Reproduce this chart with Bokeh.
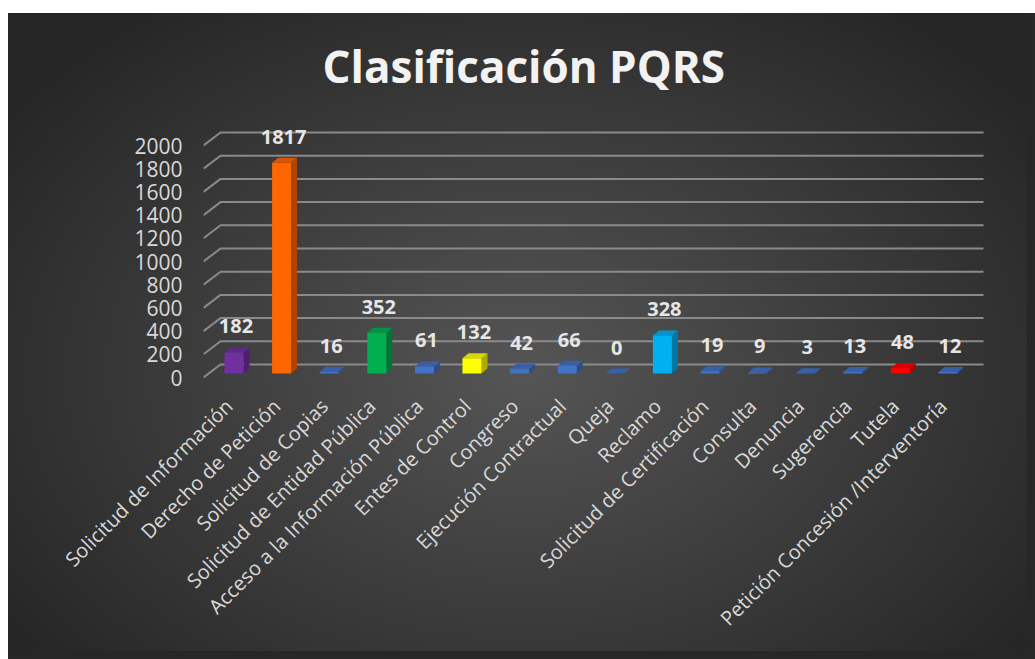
from math import pi
from bokeh.plotting import figure
from bokeh.models import FixedTicker, ColumnDataSource, Range1d
from bokeh.embed import file_html
from bokeh.resources import INLINE

# ---------------- data ----------------
categories = [
    "Solicitud de Información", "Derecho de Petición", "Solicitud de Copias",
    "Solicitud de Entidad Pública", "Acceso a la Información Pública",
    "Entes de Control", "Congreso", "Ejecución Contractual", "Queja", "Reclamo",
    "Solicitud de Certificación", "Consulta", "Denuncia", "Sugerencia", "Tutela",
    "Petición Concesión /Interventoría",
]
values = [182, 1817, 16, 352, 61, 132, 42, 66, 0, 328, 19, 9, 3, 13, 48, 12]
bar_colors = ["#7030A0", "#FF6600", "#4472C4", "#00B050", "#4472C4", "#FFFF00",
              "#4472C4", "#4472C4", "#4472C4", "#00B0F0", "#4472C4", "#4472C4",
              "#4472C4", "#4472C4", "#FF0000", "#4472C4"]
y_ticks = list(range(0, 2001, 200))

# ---------------- geometry helpers (pixels -> data units) ----------------
PX_X = 47.6      # px per category
PX_Y = 0.116     # px per value unit
def ux(px):
    return px / PX_X
def uy(px):
    return px / PX_Y

x_lo, x_hi = -30.5 / PX_X, (990 - 233.5) / PX_X
y_lo, y_hi = -8 / PX_Y, 2000 + 25 / PX_Y

W, H = 1027, 651
p = figure(width=W, height=H, output_backend="svg", toolbar_location=None,
           x_range=Range1d(x_lo, x_hi), y_range=Range1d(y_lo, y_hi),
           min_border_left=203, min_border_right=37, min_border_top=120,
           min_border_bottom=266, border_fill_color=None, background_fill_color=None,
           outline_line_color=None)
p.styles = {
    "background": "linear-gradient(#ffffff 0px, #ffffff 13px, transparent 13px), "
                  "linear-gradient(90deg, #ffffff 0px, #ffffff 8px, transparent 8px), "
                  "radial-gradient(ellipse farthest-corner at 51% 57%, #555555 0%, #3c3c3c 45%, #262626 85%)",
    "box-shadow": "8px 13px 0 0 #272727",
}
p.xgrid.visible = False
p.ygrid.visible = False

# title
p.title.text = "Clasificación PQRS"
p.title.text_font = "Open Sans"
p.title.text_font_size = "44px"
p.title.text_font_style = "bold"
p.title.text_color = "#f2f2f2"
p.title.align = "left"
p.title.offset = 119
p.title.standoff = 49

# ---------------- 3D gridlines ----------------
gx_back = x_lo + ux(17)
gx_end = x_lo + ux(17) + (983 - 220) / PX_X
g_dy = uy(13)
grid_xs = [[x_lo, gx_back, gx_end] for _ in y_ticks]
grid_ys = [[v, v + g_dy, v + g_dy] for v in y_ticks]
p.multi_line(grid_xs, grid_ys, line_color="#8a8a8a", line_width=2)

# ---------------- 3D bars ----------------
def shade(hexc, f):
    r, g, b = int(hexc[1:3], 16), int(hexc[3:5], 16), int(hexc[5:7], 16)
    return "#%02x%02x%02x" % (int(r * f), int(g * f), int(b * f))

hw = ux(9.5)
base = uy(4)
ddx, ddy = ux(6), uy(5)
xs_idx = list(range(len(categories)))

front = ColumnDataSource(dict(
    left=[i - hw for i in xs_idx], right=[i + hw for i in xs_idx],
    bottom=[base] * len(values), top=[base + v for v in values],
    color=bar_colors))
side_xs, side_ys, top_xs, top_ys = [], [], [], []
for i, v in zip(xs_idx, values):
    side_xs.append([i + hw, i + hw + ddx, i + hw + ddx, i + hw])
    side_ys.append([base, base + ddy, base + v + ddy, base + v])
    top_xs.append([i - hw, i - hw + ddx, i + hw + ddx, i + hw])
    top_ys.append([base + v, base + v + ddy, base + v + ddy, base + v])

p.patches(side_xs, side_ys, fill_color=[shade(c, 0.68) for c in bar_colors], line_color=None)
p.patches(top_xs, top_ys, fill_color=[shade(c, 0.85) for c in bar_colors], line_color=None)
p.quad(left="left", right="right", bottom="bottom", top="top", fill_color="color",
       line_color=None, source=front)

# data labels
lab = ColumnDataSource(dict(x=xs_idx, y=[base + v for v in values],
                            t=[str(v) for v in values]))
p.text(x="x", y="y", text="t", source=lab, text_align="center", text_baseline="middle",
       y_offset=-26, x_offset=2, text_font_size="20px", text_font_style="bold",
       text_color="#e6e6e6", text_font={"value": "Open Sans"})

# ---------------- axes ----------------
p.yaxis.ticker = FixedTicker(ticks=y_ticks)
p.yaxis.axis_line_color = None
p.yaxis.major_tick_line_color = None
p.yaxis.minor_tick_line_color = None
p.yaxis.major_label_standoff = 15
p.yaxis.major_label_text_font = "Open Sans"
p.yaxis.major_label_text_font_size = "21px"
p.yaxis.major_label_text_color = "#d9d9d9"

lab_shift = -ux(5)
x_ticks = [i + lab_shift for i in xs_idx]
p.xaxis.ticker = FixedTicker(ticks=x_ticks)
p.xaxis.major_label_overrides = {t: c for t, c in zip(x_ticks, categories)}
p.xaxis.major_label_orientation = pi / 4
p.xaxis.axis_line_color = None
p.xaxis.major_tick_line_color = None
p.xaxis.minor_tick_line_color = None
p.xaxis.major_label_standoff = 11
p.xaxis.major_label_text_font = "Open Sans"
p.xaxis.major_label_text_font_size = "20px"
p.xaxis.major_label_text_color = "#d9d9d9"

open("out.html", "w").write(file_html(p, INLINE))
